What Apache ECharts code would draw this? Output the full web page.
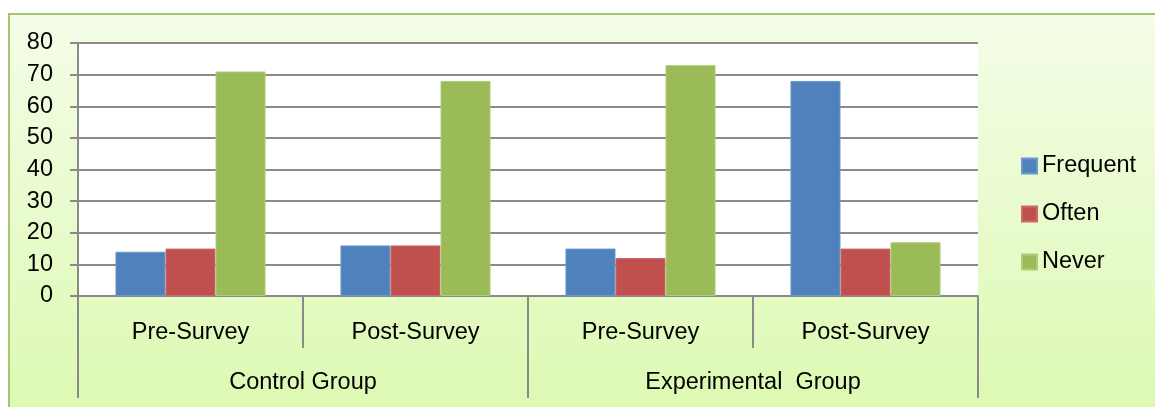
<!DOCTYPE html>
<html>
<head>
<meta charset="utf-8">
<script src="https://cdn.jsdelivr.net/npm/echarts@6/dist/echarts.min.js"></script>
<style>
html,body{margin:0;padding:0;background:#fff;}
#chart{width:1155px;height:407px;}
</style>
</head>
<body>
<div id="chart"></div>
<script>
const subCategories = ['Pre-Survey', 'Post-Survey', 'Pre-Survey', 'Post-Survey'];
const groups = ['Control Group', 'Experimental  Group'];
const seriesNames = ['Frequent', 'Often', 'Never'];
const frequent = [14, 16, 15, 68];
const often = [15, 16, 12, 15];
const never = [71, 68, 73, 17];
const yTicks = { min: 0, max: 80, interval: 10 };

const FONT = 'Liberation Sans';
const FS = 23.5;
const gridGray = '#8a8a8a';

const chart = echarts.init(document.getElementById('chart'), null, { renderer: 'canvas' });

function barSeries(name, data, color, edge) {
  return {
    name: name,
    type: 'bar',
    xAxisIndex: 0,
    yAxisIndex: 0,
    data: data,
    barGap: '0%',
    barCategoryGap: '33.3%',
    itemStyle: { color: color, borderColor: edge, borderWidth: 1 },
    emphasis: { disabled: true },
    animation: false
  };
}

chart.setOption({
  animation: false,
  textStyle: { fontFamily: FONT },
  graphic: [{
    type: 'rect',
    z: -100,
    silent: true,
    shape: { x: 9, y: 14, width: 1170, height: 410 },
    style: {
      fill: new echarts.graphic.LinearGradient(0, 0, 0, 1, [
        { offset: 0, color: '#f4fde8' },
        { offset: 1, color: '#dcf9b0' }
      ]),
      stroke: '#a6c76f',
      lineWidth: 2
    }
  }],
  grid: {
    left: 78, right: 177, top: 43, bottom: 111,
    show: true, backgroundColor: '#ffffff', borderWidth: 0
  },
  legend: {
    orient: 'vertical',
    left: 1016,
    top: 149,
    itemWidth: 15,
    itemHeight: 15,
    itemGap: 24,
    icon: 'rect',
    data: seriesNames,
    textStyle: { fontFamily: FONT, fontSize: FS, color: '#000' }
  },
  xAxis: [{
    type: 'category',
    data: subCategories,
    position: 'bottom',
    axisLine: { show: true, lineStyle: { color: gridGray, width: 2 } },
    axisTick: { show: true, interval: 0, length: 52, lineStyle: { color: gridGray, width: 2 } },
    axisLabel: { interval: 0, margin: 25, fontFamily: FONT, fontSize: FS, color: '#000' },
    splitLine: { show: false }
  }, {
    type: 'category',
    data: groups,
    position: 'bottom',
    axisLine: { show: false },
    axisTick: { show: true, interval: 0, length: 102, lineStyle: { color: gridGray, width: 2 } },
    axisLabel: { interval: 0, margin: 75, fontFamily: FONT, fontSize: FS, color: '#000' },
    splitLine: { show: false }
  }],
  yAxis: {
    type: 'value',
    min: yTicks.min, max: yTicks.max, interval: yTicks.interval,
    axisLine: { show: true, lineStyle: { color: gridGray, width: 2 } },
    axisTick: { show: true, length: 8, lineStyle: { color: gridGray, width: 2 } },
    axisLabel: { margin: 25, padding: [5, 0, 0, 0], fontFamily: FONT, fontSize: FS, color: '#000' },
    splitLine: { show: true, lineStyle: { color: gridGray, width: 2 } }
  },
  series: [
    barSeries(seriesNames[0], frequent, '#4f81bd', '#6c97cc'),
    barSeries(seriesNames[1], often, '#c0504d', '#cc6a67'),
    barSeries(seriesNames[2], never, '#9bbb59', '#b0cc78')
  ]
});
</script>
</body>
</html>
